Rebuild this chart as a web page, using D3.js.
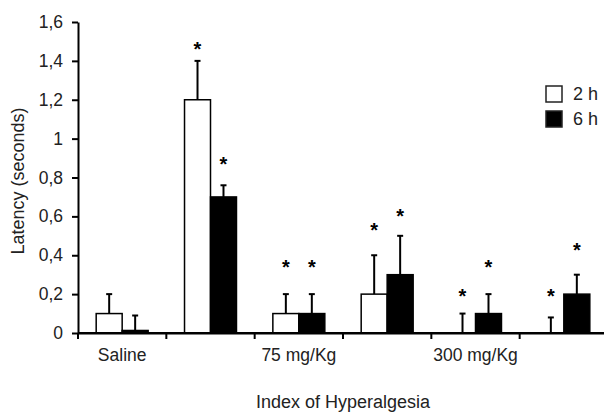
<!DOCTYPE html>
<html lang="en">
<head>
<meta charset="UTF-8">
<title>Latency by group</title>
<style>
    body { margin: 0; background: #fff; }
    svg text { font-family: "Liberation Sans", Arial, sans-serif; fill: #222; }
    .axis path, .axis line { stroke: #000; stroke-width: 2px; }
    .axis text { font-size: 17.5px; }
    .star { font-size: 20px; font-weight: bold; fill: #000; }
</style>
</head>
<body>
<svg id="chart" width="604" height="414"></svg>
<script src="https://d3js.org/d3.v7.min.js"></script>
<script>
    // groups along x, only some carry a label
    const groups = ["g1", "g2", "g3", "g4", "g5", "g6"];
    const groupLabels = ["Saline", "", "75 mg/Kg", "", "300 mg/Kg", ""];
    const series = ["2 h", "6 h"];

    // means and upper error bar (mean + SEM)
    const mean2h = [0.1, 1.2, 0.1, 0.2, 0.0, 0.0];
    const err2h  = [0.2, 1.4, 0.2, 0.4, 0.1, 0.08];
    const mean6h = [0.013, 0.7, 0.1, 0.3, 0.1, 0.2];
    const err6h  = [0.09, 0.76, 0.2, 0.5, 0.2, 0.3];

    // significance markers (level at which the * sits, null = none)
    const star2h = [null, 1.48, 0.36, 0.55, 0.21, 0.21];
    const star6h = [null, 0.89, 0.36, 0.62, 0.36, 0.45];

    const yTicks = [0, 0.2, 0.4, 0.6, 0.8, 1, 1.2, 1.4, 1.6];

    const svg = d3.select("#chart");
    const mLeft = 78, mTop = 22, mBottom = 333, mRight = 608;

    const x = d3.scaleBand().domain(groups).range([mLeft, mRight]).paddingInner(0).paddingOuter(0);
    const xi = d3.scaleBand().domain(series).range([0, x.bandwidth()]).paddingOuter(0.7).paddingInner(0);
    const y = d3.scaleLinear().domain([0, 1.6]).range([mBottom, mTop]);

    const fmt = d => String(d).replace(".", ",");

    // y axis
    svg.append("g")
        .attr("class", "axis")
        .attr("transform", `translate(${mLeft},0)`)
        .call(d3.axisLeft(y).tickValues(yTicks).tickFormat(fmt).tickSize(6).tickPadding(9).tickSizeOuter(0));

    // x axis
    const xAxis = svg.append("g")
        .attr("class", "axis")
        .attr("transform", `translate(0,${mBottom})`)
        .call(d3.axisBottom(x).tickSize(6).tickSizeOuter(0).tickPadding(10)
            .tickFormat((d, i) => groupLabels[i]));
    // ticks sit on band boundaries, labels at band centers
    xAxis.selectAll(".tick line").attr("transform", `translate(${-x.bandwidth() / 2},0)`);

    const rows = groups.map((g, i) => [
        { g, s: "2 h", v: mean2h[i], e: err2h[i], st: star2h[i] },
        { g, s: "6 h", v: mean6h[i], e: err6h[i], st: star6h[i] }
    ]).flat();

    const cx = d => x(d.g) + xi(d.s) + xi.bandwidth() / 2;

    // error bars (drawn first so the bar covers the base)
    const eb = svg.append("g").attr("stroke", "#000").attr("stroke-width", 2);
    eb.selectAll(".v").data(rows).enter().append("line")
        .attr("x1", cx).attr("x2", cx)
        .attr("y1", d => y(d.v)).attr("y2", d => y(d.e));
    eb.selectAll(".c").data(rows).enter().append("line")
        .attr("x1", d => cx(d) - 3).attr("x2", d => cx(d) + 3)
        .attr("y1", d => y(d.e)).attr("y2", d => y(d.e));

    // bars
    svg.append("g").selectAll("rect").data(rows.filter(d => d.v > 0)).enter().append("rect")
        .attr("x", d => x(d.g) + xi(d.s))
        .attr("width", xi.bandwidth())
        .attr("y", d => y(d.v))
        .attr("height", d => y(0) - y(d.v))
        .attr("fill", d => d.s === "2 h" ? "#fff" : "#000")
        .attr("stroke", "#000")
        .attr("stroke-width", 1.5);

    // redraw x axis line on top of bar bottoms
    svg.append("line").attr("x1", mLeft).attr("x2", mRight).attr("y1", mBottom).attr("y2", mBottom)
        .attr("stroke", "#000").attr("stroke-width", 2);

    // stars
    svg.append("g").selectAll("text").data(rows.filter(d => d.st !== null)).enter().append("text")
        .attr("class", "star")
        .attr("x", cx)
        .attr("y", d => y(d.st) + 11)
        .attr("text-anchor", "middle")
        .text("*");

    // legend
    const lg = svg.append("g").attr("transform", "translate(546,86)");
    series.forEach((s, i) => {
        lg.append("rect").attr("x", 0).attr("y", i * 25).attr("width", 16).attr("height", 16)
            .attr("fill", i === 0 ? "#fff" : "#000").attr("stroke", "#222").attr("stroke-width", 1.5);
        lg.append("text").attr("x", 27).attr("y", i * 25 + 8).attr("dy", "0.35em")
            .style("font-size", "18px").text(s);
    });

    // axis titles
    svg.append("text")
        .attr("transform", "translate(24,181) rotate(-90)")
        .attr("text-anchor", "middle")
        .style("font-size", "18px")
        .text("Latency (seconds)");
    svg.append("text")
        .attr("x", 343).attr("y", 408)
        .attr("text-anchor", "middle")
        .style("font-size", "18px")
        .text("Index of Hyperalgesia");
</script>
</body>
</html>
